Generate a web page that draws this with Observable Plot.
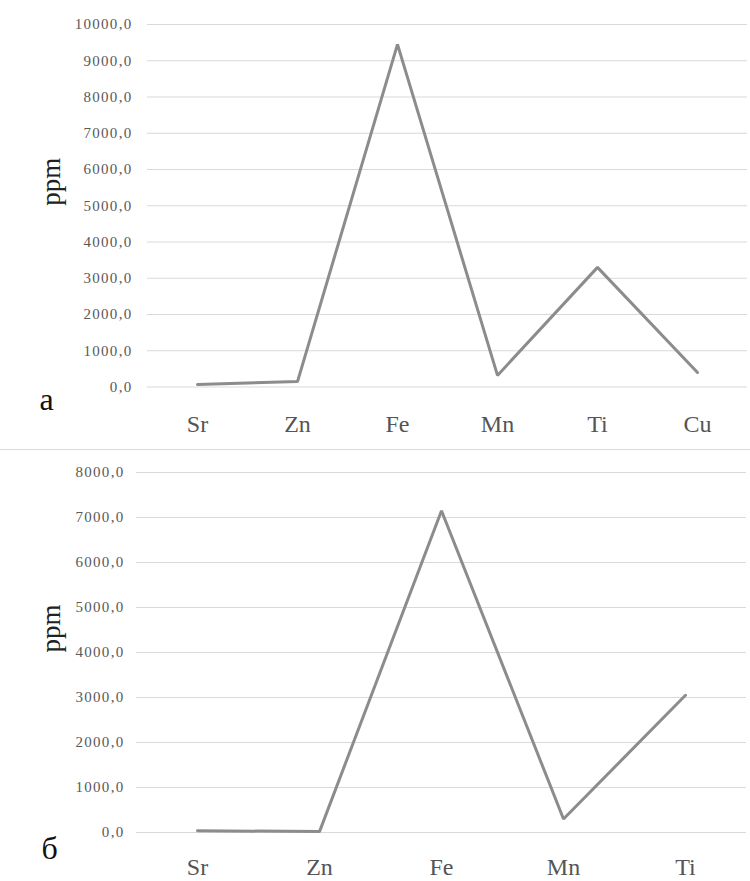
<!DOCTYPE html>
<html>
<head>
<meta charset="utf-8">
<script src="https://cdn.jsdelivr.net/npm/d3@7"></script>
<script src="https://cdn.jsdelivr.net/npm/@observablehq/plot@0.6"></script>
<style>
  html, body { margin: 0; padding: 0; background: #fff; }
  #chart { width: 750px; }
  #chart svg { display: block; }
  #chart svg, #chart svg text { font-family: "Times New Roman", "Liberation Serif", Tinos, "DejaVu Serif", serif !important; }
  #chart svg g.ytick text { letter-spacing: 1.3px; }
  .sep { height: 0; border-top: 1px solid #d9d9d9; width: 750px; }
</style>
</head>
<body>
<div id="chart"></div>
<script>
// Panel "а"
const elementsA = ["Sr", "Zn", "Fe", "Mn", "Ti", "Cu"];
const ppmA = [70, 150, 9450, 320, 3300, 400];
const ticksA = [0, 1000, 2000, 3000, 4000, 5000, 6000, 7000, 8000, 9000, 10000];
// Panel "б"
const elementsB = ["Sr", "Zn", "Fe", "Mn", "Ti"];
const ppmB = [40, 20, 7150, 300, 3050];
const ticksB = [0, 1000, 2000, 3000, 4000, 5000, 6000, 7000, 8000];

const yLabel = "ppm";
const panelLabels = ["а", "б"];

const fmt = d => d.toFixed(1).replace(".", ",");

function panel({elements, values, ticks, label, height, mt, mb, ml, mr, yPad, xPad, ppmDx, labDx, labDy}) {
  const data = elements.map((e, i) => ({element: e, ppm: values[i]}));
  return Plot.plot({
    width: 750,
    height,
    marginTop: mt,
    marginBottom: mb,
    marginLeft: ml,
    marginRight: mr,
    style: {background: "#fff", overflow: "visible"},
    x: {type: "point", domain: elements, padding: 0.5},
    y: {domain: [ticks[0], ticks[ticks.length - 1]]},
    marks: [
      Plot.gridY(ticks, {stroke: "#d9d9d9", strokeOpacity: 1, strokeWidth: 1.2}),
      Plot.axisY(ticks, {tickSize: 0, tickPadding: yPad, tickFormat: fmt, fontSize: 15, fill: "#595959", label: null, className: "ytick"}),
      Plot.axisX({tickSize: 0, tickPadding: xPad, fontSize: 24, fill: "#555", label: null}),
      Plot.line(data, {x: "element", y: "ppm", stroke: "#8c8c8c", strokeWidth: 3, strokeLinejoin: "miter"}),
      Plot.text([yLabel], {frameAnchor: "left", rotate: -90, dx: ppmDx, fontSize: 27, fill: "#222", text: d => d}),
      Plot.text([label], {frameAnchor: "bottom-left", dx: labDx, dy: labDy, fontSize: 32, fill: "#111", text: d => d})
    ]
  });
}

const root = document.getElementById("chart");
root.append(panel({elements: elementsA, values: ppmA, ticks: ticksA, label: panelLabels[0],
  height: 449, mt: 24, mb: 62.5, ml: 147, mr: 3, yPad: 15, xPad: 28, ppmDx: -96, labDx: -108, labDy: 23}));
const sep = document.createElement("div");
sep.className = "sep";
root.append(sep);
root.append(panel({elements: elementsB, values: ppmB, ticks: ticksB, label: panelLabels[1],
  height: 431, mt: 22, mb: 49, ml: 136, mr: 4, yPad: 12, xPad: 25, ppmDx: -85, labDx: -95, labDy: 26}));
</script>
</body>
</html>
